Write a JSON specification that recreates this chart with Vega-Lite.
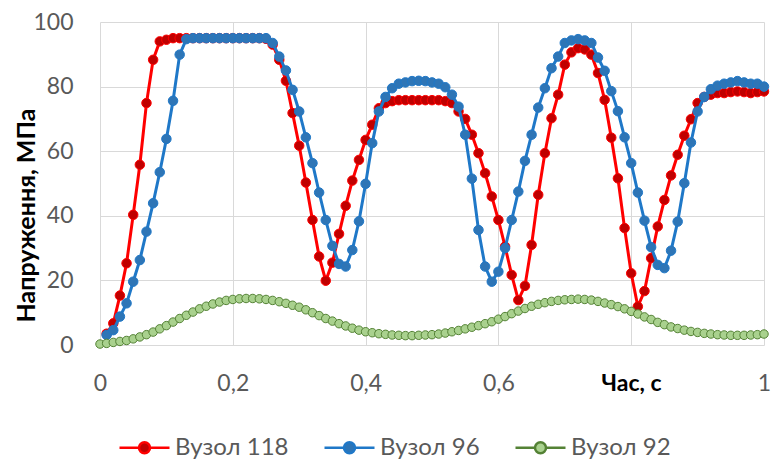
{
  "$schema": "https://vega.github.io/schema/vega-lite/v6.json",
  "width": 664,
  "height": 323,
  "autosize": {"type": "none"},
  "padding": {"left": 100, "top": 22, "right": 14, "bottom": 114},
  "background": "white",
  "config": {"view": {"stroke": null}, "font": "Lato"},
  "datasets": {
    "rows": [
      {"t":0.01,"s":"Вузол 118","v":3.5},{"t":0.02,"s":"Вузол 118","v":6.7},{"t":0.03,"s":"Вузол 118","v":15.3},{"t":0.04,"s":"Вузол 118","v":25.3},{"t":0.05,"s":"Вузол 118","v":40.3},{"t":0.06,"s":"Вузол 118","v":55.8},{"t":0.07,"s":"Вузол 118","v":74.9},{"t":0.08,"s":"Вузол 118","v":88.3},{"t":0.09,"s":"Вузол 118","v":94},{"t":0.1,"s":"Вузол 118","v":94.5},
      {"t":0.11,"s":"Вузол 118","v":95},{"t":0.12,"s":"Вузол 118","v":95},{"t":0.13,"s":"Вузол 118","v":95},{"t":0.14,"s":"Вузол 118","v":95},{"t":0.15,"s":"Вузол 118","v":95},{"t":0.16,"s":"Вузол 118","v":95},{"t":0.17,"s":"Вузол 118","v":95},{"t":0.18,"s":"Вузол 118","v":95},{"t":0.19,"s":"Вузол 118","v":95},{"t":0.2,"s":"Вузол 118","v":95},
      {"t":0.21,"s":"Вузол 118","v":95},{"t":0.22,"s":"Вузол 118","v":95},{"t":0.23,"s":"Вузол 118","v":95},{"t":0.24,"s":"Вузол 118","v":95},{"t":0.25,"s":"Вузол 118","v":94.8},{"t":0.26,"s":"Вузол 118","v":93},{"t":0.27,"s":"Вузол 118","v":88.3},{"t":0.28,"s":"Вузол 118","v":81.8},{"t":0.29,"s":"Вузол 118","v":71.8},{"t":0.3,"s":"Вузол 118","v":61.7},
      {"t":0.31,"s":"Вузол 118","v":50.3},{"t":0.32,"s":"Вузол 118","v":38.7},{"t":0.33,"s":"Вузол 118","v":27.4},{"t":0.34,"s":"Вузол 118","v":19.9},{"t":0.35,"s":"Вузол 118","v":25.5},{"t":0.36,"s":"Вузол 118","v":34.4},{"t":0.37,"s":"Вузол 118","v":43.1},{"t":0.38,"s":"Вузол 118","v":50.9},{"t":0.39,"s":"Вузол 118","v":57.3},{"t":0.4,"s":"Вузол 118","v":63.5},
      {"t":0.41,"s":"Вузол 118","v":68.2},{"t":0.42,"s":"Вузол 118","v":73.3},{"t":0.43,"s":"Вузол 118","v":74.9},{"t":0.44,"s":"Вузол 118","v":75.5},{"t":0.45,"s":"Вузол 118","v":75.8},{"t":0.46,"s":"Вузол 118","v":75.8},{"t":0.47,"s":"Вузол 118","v":75.8},{"t":0.48,"s":"Вузол 118","v":75.8},{"t":0.49,"s":"Вузол 118","v":75.8},{"t":0.5,"s":"Вузол 118","v":75.8},
      {"t":0.51,"s":"Вузол 118","v":75.8},{"t":0.52,"s":"Вузол 118","v":75.5},{"t":0.53,"s":"Вузол 118","v":74.9},{"t":0.54,"s":"Вузол 118","v":72.3},{"t":0.55,"s":"Вузол 118","v":70},{"t":0.56,"s":"Вузол 118","v":65.1},{"t":0.57,"s":"Вузол 118","v":59.4},{"t":0.58,"s":"Вузол 118","v":53.2},{"t":0.59,"s":"Вузол 118","v":46},{"t":0.6,"s":"Вузол 118","v":38.7},
      {"t":0.61,"s":"Вузол 118","v":30.5},{"t":0.62,"s":"Вузол 118","v":21.7},{"t":0.63,"s":"Вузол 118","v":13.9},{"t":0.64,"s":"Вузол 118","v":18.3},{"t":0.65,"s":"Вузол 118","v":31},{"t":0.66,"s":"Вузол 118","v":46.5},{"t":0.67,"s":"Вузол 118","v":59.4},{"t":0.68,"s":"Вузол 118","v":70.2},{"t":0.69,"s":"Вузол 118","v":77.5},{"t":0.7,"s":"Вузол 118","v":86.8},
      {"t":0.71,"s":"Вузол 118","v":90.6},{"t":0.72,"s":"Вузол 118","v":91.9},{"t":0.73,"s":"Вузол 118","v":91.5},{"t":0.74,"s":"Вузол 118","v":89.9},{"t":0.75,"s":"Вузол 118","v":84.2},{"t":0.76,"s":"Вузол 118","v":75.9},{"t":0.77,"s":"Вузол 118","v":64.2},{"t":0.78,"s":"Вузол 118","v":51.6},{"t":0.79,"s":"Вузол 118","v":36.2},{"t":0.8,"s":"Вузол 118","v":22.2},
      {"t":0.81,"s":"Вузол 118","v":11.9},{"t":0.82,"s":"Вузол 118","v":16.7},{"t":0.83,"s":"Вузол 118","v":26.9},{"t":0.84,"s":"Вузол 118","v":36.7},{"t":0.85,"s":"Вузол 118","v":44.9},{"t":0.86,"s":"Вузол 118","v":52.5},{"t":0.87,"s":"Вузол 118","v":58.9},{"t":0.88,"s":"Вузол 118","v":64.8},{"t":0.89,"s":"Вузол 118","v":69.9},{"t":0.9,"s":"Вузол 118","v":74.9},
      {"t":0.91,"s":"Вузол 118","v":76.8},{"t":0.92,"s":"Вузол 118","v":77.5},{"t":0.93,"s":"Вузол 118","v":78},{"t":0.94,"s":"Вузол 118","v":78},{"t":0.95,"s":"Вузол 118","v":78.3},{"t":0.96,"s":"Вузол 118","v":78.5},{"t":0.97,"s":"Вузол 118","v":78.3},{"t":0.98,"s":"Вузол 118","v":78},{"t":0.99,"s":"Вузол 118","v":78.3},{"t":1,"s":"Вузол 118","v":78.5},

      {"t":0.01,"s":"Вузол 96","v":3.1},{"t":0.02,"s":"Вузол 96","v":4.6},{"t":0.03,"s":"Вузол 96","v":8.8},{"t":0.04,"s":"Вузол 96","v":12.9},{"t":0.05,"s":"Вузол 96","v":19.6},{"t":0.06,"s":"Вузол 96","v":26.3},{"t":0.07,"s":"Вузол 96","v":35.1},{"t":0.08,"s":"Вузол 96","v":43.9},{"t":0.09,"s":"Вузол 96","v":53.5},{"t":0.1,"s":"Вузол 96","v":63.8},
      {"t":0.11,"s":"Вузол 96","v":75.6},{"t":0.12,"s":"Вузол 96","v":89.9},{"t":0.13,"s":"Вузол 96","v":94.7},{"t":0.14,"s":"Вузол 96","v":95},{"t":0.15,"s":"Вузол 96","v":95},{"t":0.16,"s":"Вузол 96","v":95},{"t":0.17,"s":"Вузол 96","v":95},{"t":0.18,"s":"Вузол 96","v":95},{"t":0.19,"s":"Вузол 96","v":95},{"t":0.2,"s":"Вузол 96","v":95},
      {"t":0.21,"s":"Вузол 96","v":95},{"t":0.22,"s":"Вузол 96","v":95},{"t":0.23,"s":"Вузол 96","v":95},{"t":0.24,"s":"Вузол 96","v":95},{"t":0.25,"s":"Вузол 96","v":95},{"t":0.26,"s":"Вузол 96","v":93.5},{"t":0.27,"s":"Вузол 96","v":89.3},{"t":0.28,"s":"Вузол 96","v":85},{"t":0.29,"s":"Вузол 96","v":79},{"t":0.3,"s":"Вузол 96","v":72.3},
      {"t":0.31,"s":"Вузол 96","v":64.3},{"t":0.32,"s":"Вузол 96","v":56.3},{"t":0.33,"s":"Вузол 96","v":47.2},{"t":0.34,"s":"Вузол 96","v":38.7},{"t":0.35,"s":"Вузол 96","v":30.7},{"t":0.36,"s":"Вузол 96","v":25.1},{"t":0.37,"s":"Вузол 96","v":24.3},{"t":0.38,"s":"Вузол 96","v":29.4},{"t":0.39,"s":"Вузол 96","v":38.3},{"t":0.4,"s":"Вузол 96","v":49.9},
      {"t":0.41,"s":"Вузол 96","v":62.5},{"t":0.42,"s":"Вузол 96","v":72.3},{"t":0.43,"s":"Вузол 96","v":76.8},{"t":0.44,"s":"Вузол 96","v":79.5},{"t":0.45,"s":"Вузол 96","v":80.9},{"t":0.46,"s":"Вузол 96","v":81.3},{"t":0.47,"s":"Вузол 96","v":81.7},{"t":0.48,"s":"Вузол 96","v":81.8},{"t":0.49,"s":"Вузол 96","v":81.7},{"t":0.5,"s":"Вузол 96","v":81.3},
      {"t":0.51,"s":"Вузол 96","v":80.9},{"t":0.52,"s":"Вузол 96","v":79.8},{"t":0.53,"s":"Вузол 96","v":77.5},{"t":0.54,"s":"Вузол 96","v":73.8},{"t":0.55,"s":"Вузол 96","v":65.1},{"t":0.56,"s":"Вузол 96","v":51.5},{"t":0.57,"s":"Вузол 96","v":35.6},{"t":0.58,"s":"Вузол 96","v":24.3},{"t":0.59,"s":"Вузол 96","v":19.6},{"t":0.6,"s":"Вузол 96","v":22.7},
      {"t":0.61,"s":"Вузол 96","v":30},{"t":0.62,"s":"Вузол 96","v":38.7},{"t":0.63,"s":"Вузол 96","v":47.5},{"t":0.64,"s":"Вузол 96","v":57},{"t":0.65,"s":"Вузол 96","v":65.1},{"t":0.66,"s":"Вузол 96","v":73.5},{"t":0.67,"s":"Вузол 96","v":79.5},{"t":0.68,"s":"Вузол 96","v":85.7},{"t":0.69,"s":"Вузол 96","v":89.3},{"t":0.7,"s":"Вузол 96","v":93.5},
      {"t":0.71,"s":"Вузол 96","v":94.3},{"t":0.72,"s":"Вузол 96","v":94.7},{"t":0.73,"s":"Вузол 96","v":94.3},{"t":0.74,"s":"Вузол 96","v":93.5},{"t":0.75,"s":"Вузол 96","v":89},{"t":0.76,"s":"Вузол 96","v":84.9},{"t":0.77,"s":"Вузол 96","v":78.6},{"t":0.78,"s":"Вузол 96","v":72.4},{"t":0.79,"s":"Вузол 96","v":64.3},{"t":0.8,"s":"Вузол 96","v":56.3},
      {"t":0.81,"s":"Вузол 96","v":47.2},{"t":0.82,"s":"Вузол 96","v":38.5},{"t":0.83,"s":"Вузол 96","v":30.3},{"t":0.84,"s":"Вузол 96","v":24.8},{"t":0.85,"s":"Вузол 96","v":23.8},{"t":0.86,"s":"Вузол 96","v":29.2},{"t":0.87,"s":"Вузол 96","v":38.2},{"t":0.88,"s":"Вузол 96","v":50.1},{"t":0.89,"s":"Вузол 96","v":62.7},{"t":0.9,"s":"Вузол 96","v":72.3},
      {"t":0.91,"s":"Вузол 96","v":76.8},{"t":0.92,"s":"Вузол 96","v":79.2},{"t":0.93,"s":"Вузол 96","v":80.3},{"t":0.94,"s":"Вузол 96","v":80.9},{"t":0.95,"s":"Вузол 96","v":81.3},{"t":0.96,"s":"Вузол 96","v":81.7},{"t":0.97,"s":"Вузол 96","v":81.3},{"t":0.98,"s":"Вузол 96","v":80.9},{"t":0.99,"s":"Вузол 96","v":80.9},{"t":1,"s":"Вузол 96","v":80},

      {"t":0,"s":"Вузол 92","v":0.3},{"t":0.01,"s":"Вузол 92","v":0.5},{"t":0.02,"s":"Вузол 92","v":0.8},{"t":0.03,"s":"Вузол 92","v":1.1},{"t":0.04,"s":"Вузол 92","v":1.4},{"t":0.05,"s":"Вузол 92","v":1.9},{"t":0.06,"s":"Вузол 92","v":2.5},{"t":0.07,"s":"Вузол 92","v":3.2},{"t":0.08,"s":"Вузол 92","v":4},{"t":0.09,"s":"Вузол 92","v":5},{"t":0.1,"s":"Вузол 92","v":6},
      {"t":0.11,"s":"Вузол 92","v":7.1},{"t":0.12,"s":"Вузол 92","v":8.2},{"t":0.13,"s":"Вузол 92","v":9.2},{"t":0.14,"s":"Вузол 92","v":10.2},{"t":0.15,"s":"Вузол 92","v":11.2},{"t":0.16,"s":"Вузол 92","v":12},{"t":0.17,"s":"Вузол 92","v":12.7},{"t":0.18,"s":"Вузол 92","v":13.3},{"t":0.19,"s":"Вузол 92","v":13.8},{"t":0.2,"s":"Вузол 92","v":14.1},
      {"t":0.21,"s":"Вузол 92","v":14.3},{"t":0.22,"s":"Вузол 92","v":14.4},{"t":0.23,"s":"Вузол 92","v":14.4},{"t":0.24,"s":"Вузол 92","v":14.3},{"t":0.25,"s":"Вузол 92","v":14.1},{"t":0.26,"s":"Вузол 92","v":13.8},{"t":0.27,"s":"Вузол 92","v":13.4},{"t":0.28,"s":"Вузол 92","v":12.9},{"t":0.29,"s":"Вузол 92","v":12.3},{"t":0.3,"s":"Вузол 92","v":11.7},
      {"t":0.31,"s":"Вузол 92","v":10.9},{"t":0.32,"s":"Вузол 92","v":10},{"t":0.33,"s":"Вузол 92","v":9.1},{"t":0.34,"s":"Вузол 92","v":8.2},{"t":0.35,"s":"Вузол 92","v":7.4},{"t":0.36,"s":"Вузол 92","v":6.6},{"t":0.37,"s":"Вузол 92","v":5.9},{"t":0.38,"s":"Вузол 92","v":5.2},{"t":0.39,"s":"Вузол 92","v":4.6},{"t":0.4,"s":"Вузол 92","v":4.1},
      {"t":0.41,"s":"Вузол 92","v":3.8},{"t":0.42,"s":"Вузол 92","v":3.5},{"t":0.43,"s":"Вузол 92","v":3.3},{"t":0.44,"s":"Вузол 92","v":3.1},{"t":0.45,"s":"Вузол 92","v":3},{"t":0.46,"s":"Вузол 92","v":2.9},{"t":0.47,"s":"Вузол 92","v":2.9},{"t":0.48,"s":"Вузол 92","v":3},{"t":0.49,"s":"Вузол 92","v":3.1},{"t":0.5,"s":"Вузол 92","v":3.2},
      {"t":0.51,"s":"Вузол 92","v":3.4},{"t":0.52,"s":"Вузол 92","v":3.7},{"t":0.53,"s":"Вузол 92","v":4.1},{"t":0.54,"s":"Вузол 92","v":4.5},{"t":0.55,"s":"Вузол 92","v":5},{"t":0.56,"s":"Вузол 92","v":5.5},{"t":0.57,"s":"Вузол 92","v":6},{"t":0.58,"s":"Вузол 92","v":6.6},{"t":0.59,"s":"Вузол 92","v":7.2},{"t":0.6,"s":"Вузол 92","v":8},
      {"t":0.61,"s":"Вузол 92","v":8.8},{"t":0.62,"s":"Вузол 92","v":9.7},{"t":0.63,"s":"Вузол 92","v":10.5},{"t":0.64,"s":"Вузол 92","v":11.3},{"t":0.65,"s":"Вузол 92","v":12},{"t":0.66,"s":"Вузол 92","v":12.6},{"t":0.67,"s":"Вузол 92","v":13.1},{"t":0.68,"s":"Вузол 92","v":13.5},{"t":0.69,"s":"Вузол 92","v":13.8},{"t":0.7,"s":"Вузол 92","v":14},
      {"t":0.71,"s":"Вузол 92","v":14.1},{"t":0.72,"s":"Вузол 92","v":14.2},{"t":0.73,"s":"Вузол 92","v":14.1},{"t":0.74,"s":"Вузол 92","v":13.9},{"t":0.75,"s":"Вузол 92","v":13.5},{"t":0.76,"s":"Вузол 92","v":13},{"t":0.77,"s":"Вузол 92","v":12.5},{"t":0.78,"s":"Вузол 92","v":11.9},{"t":0.79,"s":"Вузол 92","v":11.2},{"t":0.8,"s":"Вузол 92","v":10.4},
      {"t":0.81,"s":"Вузол 92","v":9.6},{"t":0.82,"s":"Вузол 92","v":8.7},{"t":0.83,"s":"Вузол 92","v":7.9},{"t":0.84,"s":"Вузол 92","v":7},{"t":0.85,"s":"Вузол 92","v":6.3},{"t":0.86,"s":"Вузол 92","v":5.6},{"t":0.87,"s":"Вузол 92","v":5.1},{"t":0.88,"s":"Вузол 92","v":4.6},{"t":0.89,"s":"Вузол 92","v":4.2},{"t":0.9,"s":"Вузол 92","v":3.9},
      {"t":0.91,"s":"Вузол 92","v":3.6},{"t":0.92,"s":"Вузол 92","v":3.4},{"t":0.93,"s":"Вузол 92","v":3.2},{"t":0.94,"s":"Вузол 92","v":3.1},{"t":0.95,"s":"Вузол 92","v":3},{"t":0.96,"s":"Вузол 92","v":3},{"t":0.97,"s":"Вузол 92","v":3},{"t":0.98,"s":"Вузол 92","v":3.1},{"t":0.99,"s":"Вузол 92","v":3.2},{"t":1,"s":"Вузол 92","v":3.4}
    ]
  },
  "data": {"name": "rows"},
  "encoding": {
    "x": {
      "field": "t", "type": "quantitative",
      "scale": {"domain": [0, 1], "nice": false},
      "axis": {
        "values": [0, 0.2, 0.4, 0.6, 0.8, 1],
        "labelExpr": "datum.value == 0.8 ? '' : replace(format(datum.value, '~g'), '.', ',')",
        "labelFont": "Lato", "labelFontSize": 23, "labelColor": "#595959",
        "labelPadding": 38, "labelBaseline": "middle", "labelFlush": false, "labelOverlap": false, "labelBound": false,
        "title": "Час, с", "titleFont": "Lato", "titleFontSize": 23, "titleFontWeight": "bold", "titleColor": "#000000",
        "titleX": 531, "titleY": 38, "titleBaseline": "middle", "titleAlign": "center", "titleAnchor": null,
        "grid": true, "gridColor": "#D9D9D9", "gridWidth": 1, "domain": false, "ticks": false, "tickSize": 0
      }
    },
    "y": {
      "field": "v", "type": "quantitative",
      "scale": {"domain": [0, 100], "nice": false},
      "axis": {
        "values": [0, 20, 40, 60, 80, 100],
        "labelFont": "Lato", "labelFontSize": 23, "labelColor": "#595959",
        "labelPadding": 27, "labelFlush": false, "labelOverlap": false, "labelBound": false,
        "title": "Напруження, МПа", "titleFont": "Lato", "titleFontSize": 25, "titleFontWeight": "bold", "titleColor": "#000000",
        "titleX": -74, "titleY": 193, "titleAngle": 270, "titleBaseline": "middle", "titleAlign": "center", "titleAnchor": null,
        "grid": true, "gridColor": "#D9D9D9", "gridWidth": 1, "domain": false, "ticks": false, "tickSize": 0
      }
    }
  },
  "layer": [
    {
      "transform": [{"filter": "datum.s == 'Вузол 118'"}],
      "mark": {"type": "line", "color": "#FF0000", "strokeWidth": 3},
      "encoding": {}
    },
    {
      "transform": [{"filter": "datum.s == 'Вузол 118'"}],
      "mark": {"type": "point", "filled": true, "size": 90, "strokeWidth": 1, "opacity": 1, "fillOpacity": 1, "strokeOpacity": 1},
      "encoding": {
        "fill": {"field": "s", "type": "nominal", "scale": {"domain": ["Вузол 118", "Вузол 96", "Вузол 92"], "range": ["#C00000", "#2E75B6", "#A9D18E"]},
          "legend": {"title": null, "orient": "none", "legendX": 18, "legendY": 399, "direction": "horizontal", "symbolType": "M-1,0H-0.22A0.22,0.22,0,1,1,0.22,0A0.22,0.22,0,1,1,-0.22,0M0.22,0H1", "symbolSize": 2500, "symbolStrokeWidth": 2.5, "labelFont": "Lato", "labelFontSize": 24, "labelColor": "#595959", "labelOffset": 4, "columnPadding": 30, "padding": 0}},
        "stroke": {"field": "s", "type": "nominal", "scale": {"domain": ["Вузол 118", "Вузол 96", "Вузол 92"], "range": ["#FF0000", "#1F78C8", "#548235"]},
          "legend": {"title": null, "orient": "none", "legendX": 18, "legendY": 399, "direction": "horizontal", "symbolType": "M-1,0H-0.22A0.22,0.22,0,1,1,0.22,0A0.22,0.22,0,1,1,-0.22,0M0.22,0H1", "symbolSize": 2500, "symbolStrokeWidth": 2.5, "labelFont": "Lato", "labelFontSize": 24, "labelColor": "#595959", "labelOffset": 4, "columnPadding": 30, "padding": 0}}
      }
    },
    {
      "transform": [{"filter": "datum.s == 'Вузол 96'"}],
      "mark": {"type": "line", "color": "#1F78C8", "strokeWidth": 3},
      "encoding": {}
    },
    {
      "transform": [{"filter": "datum.s == 'Вузол 96'"}],
      "mark": {"type": "point", "filled": true, "size": 90, "strokeWidth": 1, "opacity": 1},
      "encoding": {
        "fill": {"field": "s", "type": "nominal"},
        "stroke": {"field": "s", "type": "nominal"}
      }
    },
    {
      "transform": [{"filter": "datum.s == 'Вузол 92'"}],
      "mark": {"type": "line", "color": "#548235", "strokeWidth": 2.5},
      "encoding": {}
    },
    {
      "transform": [{"filter": "datum.s == 'Вузол 92'"}],
      "mark": {"type": "point", "filled": true, "size": 72, "strokeWidth": 1, "opacity": 1},
      "encoding": {
        "fill": {"field": "s", "type": "nominal"},
        "stroke": {"field": "s", "type": "nominal"}
      }
    }
  ]
}
